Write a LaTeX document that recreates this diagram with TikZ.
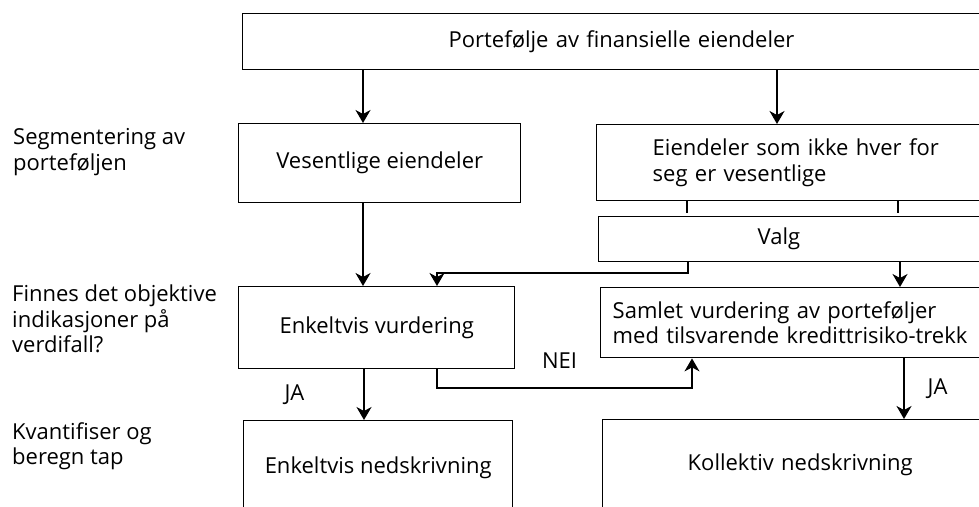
\documentclass[tikz,border=0pt]{standalone}
\usepackage{fontspec}
\setmainfont{Open Sans}
\usetikzlibrary{arrows.meta}

\tikzstyle{box} = [rectangle, draw=black, line width=1.4pt, anchor=north west, inner ysep=0pt, align=center]
\tikzstyle{openbox} = [box, align=left]
\tikzstyle{side} = [anchor=west, inner sep=0pt, align=left]
\tikzstyle{answer} = [inner sep=0pt]
\tikzstyle{link} = [line width=1.4pt]
\tikzstyle{arrow} = [line width=1.4pt, -{Stealth[length=13pt,width=15pt,inset=4pt]}]

\begin{document}
\begin{tikzpicture}[x=1pt, y=-1pt, font=\fontsize{22}{25.5}\selectfont]
\clip (0,0) rectangle (979,506);

\node (top) [openbox, minimum height=56pt, text width=460pt, inner xsep=206pt] at (242,13) {Portefølje av finansielle eiendeler};

\node (vesentlige) [box, minimum width=282pt, minimum height=79pt] at (238,123) {Vesentlige eiendeler};
\node (eiendeler) [openbox, minimum height=76pt, text width=360pt, inner xsep=56pt] at (596,124) {Eiendeler som ikke hver for\\seg er vesentlige};
\node (valg) [openbox, minimum height=45pt, text width=240pt, inner xsep=159pt] at (598,216) {Valg};

\node (enkeltvis) [box, minimum width=276pt, minimum height=82pt] at (238,286) {Enkeltvis vurdering};
\node (samlet) [openbox, minimum height=70pt, text width=420pt, inner xsep=12pt] at (600,287) {Samlet vurdering av porteføljer\\med tilsvarende kredittrisiko-trekk};

\node (enkeltned) [box, minimum width=269pt, minimum height=94pt] at (243,420) {Enkeltvis nedskrivning};
\node (kollektiv) [openbox, minimum height=90pt, text width=280pt, inner xsep=85pt] at (602,419) {Kollektiv nedskrivning};

% steps on the left
\node (segment) [side] at (13,152) {Segmentering av\\porteføljen};
\node (finnes) [side] at (12,319) {Finnes det objektive\\indikasjoner på\\verdifall?};
\node (kvant) [side] at (12,446) {Kvantifiser og\\beregn tap};

\draw [arrow] (top.south -| 363,0) -- (vesentlige.north -| 363,0);
\draw [arrow] (top.south -| 777,0) -- (eiendeler.north -| 777,0);
\draw [link] (eiendeler.south -| 687,0) -- ++(0,12);
\draw [link] (eiendeler.south -| 898,0) -- ++(0,12);
\draw [arrow] (vesentlige.south -| 363,0) -- (enkeltvis.north -| 363,0);
\draw [arrow] (valg.south -| 688,0) -- (688,273) -| (enkeltvis.north -| 437,0);
\draw [arrow] (valg.south -| 900,0) -- (samlet.north -| 900,0);
\draw [arrow] (enkeltvis.south -| 364,0) -- node[answer, left=59pt] {JA} (enkeltned.north -| 364,0);
\draw [arrow] (enkeltvis.south -| 437,0) -- (437,388) -- node[answer, above=19pt, xshift=-5pt] {NEI} (692,388) -- (samlet.south -| 692,0);
\draw [arrow] (samlet.south -| 904,0) -- node[answer, right=23pt] {JA} (kollektiv.north -| 904,0);

\end{tikzpicture}
\end{document}
